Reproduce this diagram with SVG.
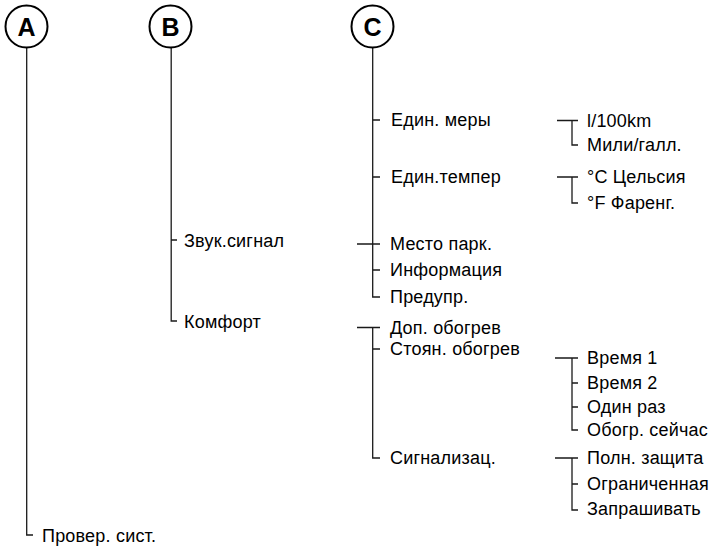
<svg xmlns="http://www.w3.org/2000/svg" width="714" height="547" viewBox="0 0 714 547">
<style>
.lbl{font-family:"Liberation Sans",Arial,sans-serif;font-size:18px;letter-spacing:0.2px;fill:#000}
.hd{font-family:"Liberation Sans",Arial,sans-serif;font-size:25px;font-weight:bold;fill:#000;text-anchor:middle}
.circ{fill:#fff;stroke:#000;stroke-width:2}
.ln{fill:none;stroke:#1a1a1a;stroke-width:1.3}
</style>
<rect width="714" height="547" fill="#fff"/>
<g id="connectors">
<path class="ln" d="M26.7,48 V535 H33"/>
<path class="ln" d="M171.2,48 V321 H177 M171.2,240 H177"/>
<path class="ln" d="M372.7,48 V297 H380 M372.7,120 H380 M372.7,177 H380 M357,244 H380 M372.7,270 H380"/>
<path class="ln" d="M357,327.5 H380 M372.7,327.5 V458 H380 M372.7,349 H380"/>
<path class="ln" d="M557,120.5 H578 M572,120.5 V145 H578"/>
<path class="ln" d="M557,177 H578 M572,177 V203 H578"/>
<path class="ln" d="M555,358 H578 M572,358 V430 H578 M572,383 H578 M572,407 H578"/>
<path class="ln" d="M555,458 H578 M572,458 V510 H578 M572,484 H578"/>
</g>
<g id="nodeA"><circle class="circ" cx="26.5" cy="26.5" r="21"/><text class="hd" x="26.5" y="36">A</text></g>
<g id="nodeB"><circle class="circ" cx="170.5" cy="26.5" r="21"/><text class="hd" x="170.5" y="36">B</text></g>
<g id="nodeC"><circle class="circ" cx="372.5" cy="26.5" r="21"/><text class="hd" x="372.5" y="36">C</text></g>
<g id="nodeA1"><text class="lbl" x="42" y="542">Провер. сист.</text></g>
<g id="nodeB1"><text class="lbl" x="184" y="247">Звук.сигнал</text></g>
<g id="nodeB2"><text class="lbl" x="184" y="328">Комфорт</text></g>
<g id="nodeC1"><text class="lbl" x="391" y="126">Един. меры</text></g>
<g id="nodeC2"><text class="lbl" x="391" y="183">Един.темпер</text></g>
<g id="nodeC3"><text class="lbl" x="390" y="250">Место парк.</text></g>
<g id="nodeC4"><text class="lbl" x="390" y="276">Информация</text></g>
<g id="nodeC5"><text class="lbl" x="390" y="303">Предупр.</text></g>
<g id="nodeC6"><text class="lbl" x="390" y="334">Доп. обогрев</text></g>
<g id="nodeC7"><text class="lbl" x="390" y="355">Стоян. обогрев</text></g>
<g id="nodeC8"><text class="lbl" x="390" y="464">Сигнализац.</text></g>
<g id="nodeD1"><text class="lbl" x="587" y="127">l/100km</text></g>
<g id="nodeD2"><text class="lbl" x="587" y="151">Мили/галл.</text></g>
<g id="nodeD3"><text class="lbl" x="587" y="183">°C Цельсия</text></g>
<g id="nodeD4"><text class="lbl" x="587" y="209">°F Фаренг.</text></g>
<g id="nodeD5"><text class="lbl" x="587" y="364">Время 1</text></g>
<g id="nodeD6"><text class="lbl" x="587" y="389">Время 2</text></g>
<g id="nodeD7"><text class="lbl" x="587" y="413">Один раз</text></g>
<g id="nodeD8"><text class="lbl" x="587" y="436">Обогр. сейчас</text></g>
<g id="nodeD9"><text class="lbl" x="587" y="464">Полн. защита</text></g>
<g id="nodeD10"><text class="lbl" x="587" y="490">Ограниченная</text></g>
<g id="nodeD11"><text class="lbl" x="587" y="515">Запрашивать</text></g>
</svg>
